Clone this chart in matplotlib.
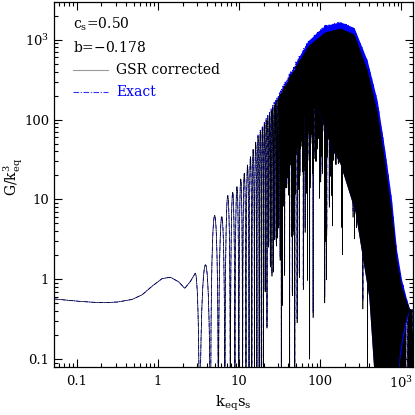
import numpy as np
import matplotlib
matplotlib.use("Agg")
import matplotlib.pyplot as plt
from matplotlib.ticker import LogLocator, FuncFormatter, NullFormatter

# low-k part, same for both curves
k_lo = [0.052, 0.08, 0.106, 0.16, 0.226, 0.32, 0.48, 0.636, 0.844, 1.12, 1.42, 1.79, 2.13, 2.50, 2.87]
g_lo = [0.567, 0.545, 0.53, 0.515, 0.51, 0.52, 0.56, 0.64, 0.82, 1.02, 1.06, 0.93, 0.77, 0.94, 1.19]

# peak envelope of the oscillations
k_env = [2.87, 3.88, 4.96, 6.10, 7.22, 8.32, 9.31, 10.5, 11.8, 17.2, 27.6, 42.1, 70.6, 113, 175,
         260, 378, 502, 624, 754, 868, 1000, 1152, 1264, 1400]
env_exact = [1.19, 1.53, 6.3, 6.1, 11.2, 12.3, 14.3, 18.2, 22, 66, 173, 390, 975, 1500, 1680,
             1420, 550, 173, 41, 10, 2.37, 1.0, 0.57, 0.42, 0.42]
env_gsr = [1.19, 1.53, 6.3, 6.1, 11.2, 12.3, 14.3, 18.2, 22, 64, 160, 350, 850, 1250, 1400,
           1180, 420, 125, 29, 7.0, 1.8, 0.82, 0.52, 0.42, 0.42]

# lower edge of the part where the oscillations merge into solid ink
k_solid = [55, 75, 100, 135, 175, 268, 396, 483, 880, 935, 1029, 1152, 1264, 1400]
solid_exact = [560, 300, 110, 45, 28, 7, 0.6, 0.03, 0.03, 0.088, 0.17, 0.307, 0.42, 0.42]
solid_gsr = [500, 280, 110, 45, 28, 7, 0.6, 0.03, 0.03, 0.11, 0.21, 0.34, 0.42, 0.42]

# first dips, after that roughly even spacing
k_dips = [3.25, 4.42, 5.53, 6.66, 7.77, 8.85, 9.90]
dip_spacing = 1.1

tick_vals = [0.1, 1, 10, 100, 1000]
tick_text = ["0.1", "1", "10", "100", r"$10^3$"]

plt.rcParams["font.family"] = "DejaVu Serif"
plt.rcParams["mathtext.fontset"] = "dejavuserif"

ph_pts = np.r_[-0.5, np.arange(len(k_dips))]
k_pts = [k_lo[-1]] + k_dips
n_last = len(k_dips) - 1


def phase(k):
    return np.where(k <= k_dips[-1], np.interp(k, k_pts, ph_pts),
                    n_last + (k - k_dips[-1]) / dip_spacing)


def phase_to_k(ph):
    return np.where(ph <= n_last, np.interp(ph, ph_pts, k_pts),
                    k_dips[-1] + (ph - n_last) * dip_spacing)


def logint(k, kp, vp):
    return np.exp(np.interp(np.log(k), np.log(kp), np.log(vp)))


def oscillating(k, env):
    ph = phase(k)
    k_peak = np.clip(phase_to_k(np.floor(ph) + 0.5), k_env[0], k_env[-1])
    top = np.where(k > 60, logint(k, k_env, env), logint(k_peak, k_env, env))
    return top * np.sin(np.pi * ph) ** 2


k_hi = np.r_[np.linspace(k_lo[-1], 20, 700), np.logspace(np.log10(20), np.log10(k_env[-1]), 900)[1:]]
k_all = np.r_[k_lo, k_hi[1:]]
g_exact = np.r_[g_lo, oscillating(k_hi[1:], env_exact)]
g_gsr = np.r_[g_lo, oscillating(k_hi[1:], env_gsr)]

k_fill = np.logspace(np.log10(k_solid[0]), np.log10(k_solid[-1]), 400)

fig = plt.figure(figsize=(4.15, 4.15), dpi=100)
ax = fig.add_axes([0.130, 0.116, 0.866, 0.880])
ax.plot(k_all, g_exact, color="#0000ff", lw=0.6, ls=(0, (5, 1.5, 1, 1.5)), zorder=1)
ax.plot(k_all, g_gsr, color="k", lw=0.45, zorder=2)
ax.fill_between(k_fill, logint(k_fill, k_solid, solid_exact), logint(k_fill, k_env, env_exact),
                color="#0000ff", lw=0, zorder=3)
ax.fill_between(k_fill, logint(k_fill, k_solid, solid_gsr), logint(k_fill, k_env, env_gsr),
                color="k", lw=0, zorder=4)

ax.set_xscale("log"); ax.set_yscale("log")
ax.set_xlim(0.052, 1400); ax.set_ylim(0.08, 3000)
fmt = FuncFormatter(lambda v, p: dict(zip(tick_vals, tick_text)).get(round(v, 6), ""))
for axis in (ax.xaxis, ax.yaxis):
    axis.set_major_locator(LogLocator(base=10, numticks=20))
    axis.set_minor_locator(LogLocator(base=10, subs=np.arange(2, 10), numticks=20))
    axis.set_major_formatter(fmt)
    axis.set_minor_formatter(NullFormatter())
ax.tick_params(which="both", direction="in", top=True, right=True, labelsize=9.5, width=0.8)
ax.tick_params(which="major", length=6)
ax.tick_params(which="minor", length=3)
ax.tick_params(axis="x", pad=6)
for s in ax.spines.values():
    s.set_linewidth(0.9)
    s.set_zorder(5)

ax.set_xlabel(r"k$_{\rm eq}$s$_{\rm s}$", fontsize=10.5, labelpad=2)
ax.set_ylabel(r"G/k$^3_{\rm eq}$", fontsize=10)
ax.yaxis.set_label_coords(-0.080, 0.52)

ax.text(0.053, 0.937, r"c$_{\rm s}$=0.50", transform=ax.transAxes, fontsize=10, va="center")
ax.text(0.053, 0.874, r"b=$-$0.178", transform=ax.transAxes, fontsize=10, va="center")
ax.plot([0.053, 0.150], [0.814, 0.814], transform=ax.transAxes, color="#999999", lw=0.8)
ax.text(0.173, 0.814, "GSR corrected", transform=ax.transAxes, fontsize=10, va="center")
ax.plot([0.053, 0.150], [0.753, 0.753], transform=ax.transAxes, color="#3333ff", lw=0.8,
        ls=(0, (5, 1.5, 1, 1.5)))
ax.text(0.173, 0.753, "Exact", transform=ax.transAxes, fontsize=10, va="center", color="#0000ff")

fig.savefig("out.png", dpi=100)
